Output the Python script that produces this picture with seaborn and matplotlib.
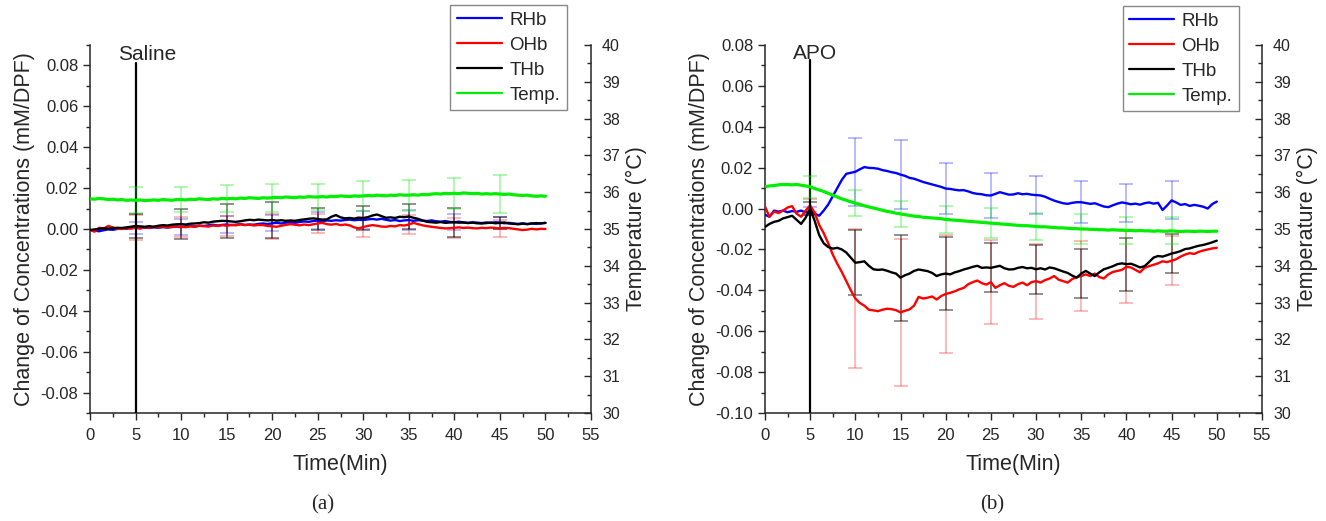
import numpy as np
import pandas as pd
import matplotlib
matplotlib.use('Agg')
import matplotlib.pyplot as plt
from matplotlib.ticker import MultipleLocator, FormatStrFormatter
import seaborn as sns

sns.set_style('ticks')
plt.rcParams['font.family'] = ['Liberation Sans', 'DejaVu Sans']
plt.rcParams['axes.unicode_minus'] = False

# time grid (min), one reading every half minute
time = np.arange(0, 50.5, 0.5)
err_time = [5, 10, 15, 20, 25, 30, 35, 40, 45]

# ---- (a) Saline ----
sal_rhb = [
    -0.0005, -0.0008, -0.0011, -0.0006, -0.0002, -0.0004, 0.0000, 0.0003, 0.0001, 0.0005,
    0.0006, 0.0003, 0.0007, 0.0005, 0.0008, 0.0006, 0.0009, 0.0007, 0.0010, 0.0012,
    0.0009, 0.0013, 0.0015, 0.0012, 0.0016, 0.0015, 0.0018, 0.0021, 0.0017, 0.0020,
    0.0022, 0.0019, 0.0021, 0.0024, 0.0020, 0.0022, 0.0021, 0.0025, 0.0027, 0.0024,
    0.0028, 0.0030, 0.0027, 0.0031, 0.0033, 0.0030, 0.0034, 0.0037, 0.0035, 0.0039,
    0.0041, 0.0038, 0.0042, 0.0040, 0.0043, 0.0041, 0.0044, 0.0046, 0.0043, 0.0045,
    0.0044, 0.0047, 0.0049, 0.0046, 0.0050, 0.0045, 0.0041, 0.0044, 0.0039, 0.0042,
    0.0044, 0.0040, 0.0043, 0.0041, 0.0039, 0.0042, 0.0038, 0.0036, 0.0039, 0.0035,
    0.0033, 0.0036, 0.0032, 0.0030, 0.0033, 0.0031, 0.0029, 0.0032, 0.0030, 0.0033,
    0.0031, 0.0028, 0.0030, 0.0027, 0.0025, 0.0028, 0.0024, 0.0027, 0.0025, 0.0028,
    0.0030]
sal_ohb = [
    -0.0005, -0.0013, 0.0006, 0.0002, 0.0015, 0.0008, 0.0001, 0.0000, 0.0004, 0.0002,
    0.0006, 0.0004, 0.0008, 0.0006, 0.0011, 0.0009, 0.0012, 0.0008, 0.0010, 0.0013,
    0.0011, 0.0009, 0.0013, 0.0011, 0.0016, 0.0014, 0.0012, 0.0017, 0.0015, 0.0019,
    0.0016, 0.0020, 0.0018, 0.0023, 0.0019, 0.0021, 0.0017, 0.0020, 0.0019, 0.0015,
    0.0013, 0.0011, 0.0016, 0.0020, 0.0024, 0.0021, 0.0018, 0.0022, 0.0019, 0.0023,
    0.0027, 0.0030, 0.0024, 0.0021, 0.0025, 0.0019, 0.0022, 0.0018, 0.0008, 0.0003,
    0.0010, 0.0015, 0.0019, 0.0016, 0.0012, 0.0011, 0.0015, 0.0013, 0.0019, 0.0017,
    0.0022, 0.0030, 0.0024, 0.0018, 0.0014, 0.0011, 0.0008, 0.0005, 0.0003, 0.0004,
    0.0006, 0.0008, 0.0005, 0.0007, 0.0004, 0.0003, 0.0006, 0.0004, 0.0007, 0.0005,
    0.0003, 0.0006, 0.0004, 0.0001, -0.0002, -0.0005, -0.0003, 0.0001, -0.0002, 0.0001,
    0.0000]
sal_thb = [
    -0.0005, -0.0002, 0.0001, 0.0003, 0.0002, 0.0004, 0.0006, 0.0005, 0.0008, 0.0011,
    0.0015, 0.0013, 0.0011, 0.0014, 0.0011, 0.0016, 0.0019, 0.0017, 0.0021, 0.0023,
    0.0024, 0.0022, 0.0026, 0.0027, 0.0029, 0.0033, 0.0031, 0.0036, 0.0038, 0.0040,
    0.0039, 0.0037, 0.0035, 0.0038, 0.0042, 0.0045, 0.0043, 0.0046, 0.0044, 0.0042,
    0.0044, 0.0041, 0.0043, 0.0040, 0.0042, 0.0040, 0.0044, 0.0047, 0.0050, 0.0052,
    0.0049, 0.0046, 0.0047, 0.0060, 0.0068, 0.0057, 0.0052, 0.0054, 0.0051, 0.0055,
    0.0053, 0.0058, 0.0066, 0.0071, 0.0063, 0.0055, 0.0057, 0.0054, 0.0060, 0.0058,
    0.0061, 0.0055, 0.0050, 0.0042, 0.0035, 0.0033, 0.0031, 0.0034, 0.0030, 0.0032,
    0.0033, 0.0031, 0.0032, 0.0029, 0.0031, 0.0028, 0.0027, 0.0029, 0.0031, 0.0028,
    0.0030, 0.0032, 0.0027, 0.0025, 0.0023, 0.0026, 0.0024, 0.0027, 0.0029, 0.0027,
    0.0030]
sal_temp = [
    35.82, 35.81, 35.83, 35.82, 35.80, 35.81, 35.79, 35.80, 35.78, 35.79,
    35.78, 35.79, 35.77, 35.78, 35.79, 35.78, 35.80, 35.79, 35.78, 35.80,
    35.80, 35.79, 35.81, 35.80, 35.82, 35.81, 35.80, 35.82, 35.81, 35.83,
    35.82, 35.83, 35.82, 35.84, 35.83, 35.85, 35.84, 35.83, 35.85, 35.84,
    35.85, 35.86, 35.85, 35.87, 35.86, 35.85, 35.87, 35.86, 35.88, 35.87,
    35.87, 35.88, 35.87, 35.89, 35.88, 35.90, 35.89, 35.88, 35.90, 35.89,
    35.90, 35.91, 35.90, 35.92, 35.91, 35.90, 35.92, 35.91, 35.93, 35.92,
    35.92, 35.93, 35.92, 35.94, 35.93, 35.95, 35.96, 35.95, 35.97, 35.96,
    35.97, 35.96, 35.98, 35.97, 35.96, 35.97, 35.95, 35.96, 35.95, 35.96,
    35.95, 35.94, 35.95, 35.93, 35.92, 35.91, 35.92, 35.90, 35.89, 35.90,
    35.89]
sal_rhb_err = [0.003, 0.004, 0.004, 0.004, 0.004, 0.0045, 0.005, 0.004, 0.003]
sal_ohb_err = [0.0062, 0.005, 0.005, 0.006, 0.0045, 0.005, 0.0045, 0.005, 0.004]
sal_thb_err = [0.006, 0.0074, 0.0082, 0.009, 0.0052, 0.006, 0.006, 0.007, 0.003]
sal_temp_err = [0.35, 0.35, 0.37, 0.38, 0.36, 0.40, 0.42, 0.42, 0.52]

# ---- (b) APO ----
apo_rhb = [
    -0.0030, -0.0040, -0.0010, -0.0015, -0.0010, -0.0018, -0.0012, -0.0016, -0.0010, -0.0019,
    -0.0012, -0.0025, -0.0035, -0.0010, 0.0020, 0.0060, 0.0100, 0.0140, 0.0170, 0.0175,
    0.0180, 0.0192, 0.0203, 0.0199, 0.0198, 0.0195, 0.0188, 0.0184, 0.0178, 0.0174,
    0.0166, 0.0160, 0.0150, 0.0146, 0.0138, 0.0130, 0.0124, 0.0118, 0.0112, 0.0106,
    0.0098, 0.0096, 0.0092, 0.0089, 0.0090, 0.0084, 0.0076, 0.0072, 0.0070, 0.0065,
    0.0064, 0.0072, 0.0080, 0.0074, 0.0068, 0.0069, 0.0075, 0.0070, 0.0072, 0.0068,
    0.0066, 0.0064, 0.0058, 0.0048, 0.0039, 0.0032, 0.0026, 0.0023, 0.0028, 0.0031,
    0.0031, 0.0027, 0.0023, 0.0026, 0.0018, 0.0010, 0.0007, 0.0016, 0.0024, 0.0030,
    0.0026, 0.0021, 0.0024, 0.0019, 0.0026, 0.0030, 0.0024, 0.0028, -0.0007, 0.0015,
    0.0040, 0.0030, 0.0018, 0.0022, 0.0013, 0.0018, 0.0014, 0.0009, 0.0000, 0.0022,
    0.0034]
apo_ohb = [
    0.0010, -0.0040, -0.0015, -0.0022, -0.0010, 0.0005, 0.0012, -0.0025, -0.0040, -0.0010,
    0.0015, -0.0020, -0.0080, -0.0120, -0.0170, -0.0225, -0.0270, -0.0310, -0.0355, -0.0400,
    -0.0440, -0.0462, -0.0475, -0.0495, -0.0498, -0.0502, -0.0495, -0.0490, -0.0492, -0.0497,
    -0.0508, -0.0500, -0.0493, -0.0475, -0.0432, -0.0440, -0.0436, -0.0430, -0.0445, -0.0428,
    -0.0418, -0.0412, -0.0405, -0.0395, -0.0388, -0.0370, -0.0360, -0.0352, -0.0365, -0.0372,
    -0.0360, -0.0388, -0.0375, -0.0365, -0.0378, -0.0383, -0.0370, -0.0362, -0.0375, -0.0360,
    -0.0355, -0.0362, -0.0350, -0.0342, -0.0330, -0.0348, -0.0355, -0.0362, -0.0345, -0.0335,
    -0.0330, -0.0322, -0.0330, -0.0318, -0.0335, -0.0342, -0.0322, -0.0310, -0.0305, -0.0300,
    -0.0285, -0.0288, -0.0300, -0.0312, -0.0290, -0.0282, -0.0275, -0.0268, -0.0258, -0.0262,
    -0.0255, -0.0248, -0.0235, -0.0225, -0.0218, -0.0222, -0.0212, -0.0205, -0.0200, -0.0195,
    -0.0192]
apo_thb = [
    -0.0090, -0.0075, -0.0065, -0.0060, -0.0048, -0.0042, -0.0035, -0.0055, -0.0075, -0.0045,
    0.0000, -0.0060, -0.0130, -0.0170, -0.0188, -0.0196, -0.0192, -0.0200, -0.0215, -0.0240,
    -0.0265, -0.0262, -0.0258, -0.0280, -0.0297, -0.0300, -0.0298, -0.0304, -0.0312, -0.0318,
    -0.0338, -0.0326, -0.0318, -0.0305, -0.0298, -0.0302, -0.0306, -0.0315, -0.0330, -0.0322,
    -0.0318, -0.0322, -0.0312, -0.0306, -0.0298, -0.0292, -0.0285, -0.0280, -0.0290, -0.0288,
    -0.0290, -0.0285, -0.0280, -0.0292, -0.0298, -0.0297, -0.0290, -0.0286, -0.0292, -0.0290,
    -0.0297, -0.0292, -0.0298, -0.0288, -0.0292, -0.0300, -0.0308, -0.0315, -0.0328, -0.0338,
    -0.0318, -0.0305, -0.0318, -0.0330, -0.0312, -0.0297, -0.0290, -0.0282, -0.0272, -0.0268,
    -0.0272, -0.0270, -0.0278, -0.0288, -0.0282, -0.0262, -0.0240, -0.0232, -0.0235, -0.0228,
    -0.0220, -0.0215, -0.0208, -0.0198, -0.0195, -0.0188, -0.0182, -0.0178, -0.0172, -0.0165,
    -0.0157]
apo_temp = [
    36.15, 36.17, 36.18, 36.20, 36.21, 36.21, 36.20, 36.21, 36.19, 36.17,
    36.15, 36.10, 36.06, 36.02, 35.97, 35.92, 35.87, 35.82, 35.78, 35.74,
    35.70, 35.67, 35.63, 35.60, 35.57, 35.54, 35.51, 35.48, 35.46, 35.43,
    35.41, 35.39, 35.37, 35.35, 35.34, 35.32, 35.31, 35.30, 35.29, 35.28,
    35.26, 35.25, 35.24, 35.23, 35.22, 35.21, 35.20, 35.19, 35.18, 35.17,
    35.16, 35.15, 35.14, 35.13, 35.12, 35.11, 35.10, 35.09, 35.09, 35.08,
    35.07, 35.06, 35.06, 35.05, 35.04, 35.03, 35.03, 35.02, 35.01, 35.01,
    35.00, 35.00, 34.99, 34.99, 34.98, 34.98, 34.97, 34.98, 34.97, 34.97,
    34.96, 34.96, 34.95, 34.96, 34.95, 34.95, 34.94, 34.95, 34.94, 34.94,
    34.95, 34.94, 34.93, 34.94, 34.94, 34.93, 34.94, 34.94, 34.93, 34.94,
    34.94]
apo_rhb_err = [0.002, 0.0167, 0.017, 0.0127, 0.011, 0.0092, 0.0102, 0.0093, 0.0093]
apo_ohb_err = [0.003, 0.034, 0.036, 0.029, 0.0205, 0.0184, 0.0172, 0.0175, 0.012]
apo_thb_err = [0.003, 0.016, 0.021, 0.018, 0.012, 0.012, 0.012, 0.013, 0.0095]
apo_temp_err = [0.30, 0.35, 0.35, 0.37, 0.40, 0.37, 0.40, 0.37, 0.37]

colors = {'RHb': '#0000ff', 'OHb': '#ff0000', 'THb': '#000000', 'Temp.': '#00ee00'}
err_alpha = {'RHb': 0.35, 'OHb': 0.35, 'THb': 0.55, 'Temp.': 0.4}


def draw_panel(fig, rect, hb, temp, errs, ylim, yticks, label, label_xy, line_top,
               legend_anchor, caption, caption_x):
    ax = fig.add_axes(rect)
    ax2 = ax.twinx()

    df = pd.DataFrame({'time': time, 'RHb': hb[0], 'OHb': hb[1], 'THb': hb[2], 'Temp.': temp})
    idx = [int(t * 2) for t in err_time]

    for name, err in zip(['RHb', 'OHb', 'THb'], errs[:3]):
        ax.errorbar(err_time, df[name].values[idx], yerr=err, fmt='none',
                    ecolor=colors[name], alpha=err_alpha[name], elinewidth=1.1,
                    capsize=5, capthick=1.1, zorder=1)
    for name in ['RHb', 'OHb', 'THb']:
        sns.lineplot(data=df, x='time', y=name, ax=ax, color=colors[name],
                     linewidth=1.7, label=name, legend=False, zorder=3)

    ax2.errorbar(err_time, df['Temp.'].values[idx], yerr=errs[3], fmt='none',
                 ecolor=colors['Temp.'], alpha=err_alpha['Temp.'], elinewidth=1.1,
                 capsize=5, capthick=1.1, zorder=1)
    sns.lineplot(data=df, x='time', y='Temp.', ax=ax2, color=colors['Temp.'],
                 linewidth=2.3, label='Temp.', legend=False, zorder=3)

    # injection marker
    ax.plot([5, 5], [ylim[0], line_top], color='black', linewidth=1.6, zorder=4)
    ax.text(label_xy[0], label_xy[1], label, fontsize=15, ha='center', va='center')

    ax.set_xlim(0, 55)
    ax.set_ylim(*ylim)
    ax2.set_ylim(30, 40)
    ax.xaxis.set_major_locator(MultipleLocator(5))
    ax.xaxis.set_minor_locator(MultipleLocator(2.5))
    ax.set_yticks(yticks)
    ax.yaxis.set_minor_locator(MultipleLocator(0.01))
    ax.yaxis.set_major_formatter(FormatStrFormatter('%.2f'))
    ax2.yaxis.set_major_locator(MultipleLocator(1))
    ax2.yaxis.set_minor_locator(MultipleLocator(0.5))

    ax.set_xlabel('Time(Min)', fontsize=15.5, labelpad=8)
    ax.set_ylabel('Change of Concentrations (mM/DPF)', fontsize=15.5, labelpad=4)
    ax2.set_ylabel('Temperature (°C)', fontsize=15.5, labelpad=4)

    for a in (ax, ax2):
        for s in a.spines.values():
            s.set_linewidth(1.1)
        a.spines['top'].set_visible(False)
    ax.spines['right'].set_visible(False)
    ax2.spines['left'].set_visible(False)
    ax2.spines['bottom'].set_visible(False)

    ax.tick_params(axis='both', which='major', direction='out', length=5, width=1,
                   labelsize=12)
    ax.tick_params(axis='x', which='major', pad=6)
    ax.tick_params(axis='both', which='minor', direction='out', length=3, width=1)
    ax2.tick_params(axis='y', which='major', direction='in', length=5, width=1,
                    labelsize=11.5, pad=8)
    ax2.tick_params(axis='y', which='minor', direction='in', length=3, width=1)

    handles = [h for h in ax.get_lines() if h.get_label() in ('RHb', 'OHb', 'THb')] + \
              [h for h in ax2.get_lines() if h.get_label() == 'Temp.']
    leg = fig.legend(handles, [h.get_label() for h in handles], loc='upper right',
                     bbox_to_anchor=legend_anchor, fontsize=13.5, frameon=True,
                     fancybox=False, edgecolor='#888888', framealpha=1,
                     handlelength=2.4, labelspacing=0.42, borderpad=0.35,
                     handletextpad=0.4, borderaxespad=0)
    leg.get_frame().set_linewidth(1)
    for line in leg.get_lines():
        line.set_linewidth(1.6)

    fig.text(caption_x, 0.012, caption, fontsize=15, ha='center', va='bottom',
             family=['Liberation Serif', 'DejaVu Serif'])
    return ax, ax2


fig = plt.figure(figsize=(13.26, 5.21), dpi=100)

draw_panel(fig, [0.0679, 0.2073, 0.3778, 0.7063],
           (sal_rhb, sal_ohb, sal_thb), sal_temp,
           (sal_rhb_err, sal_ohb_err, sal_thb_err, sal_temp_err),
           (-0.09, 0.09), [-0.08, -0.06, -0.04, -0.02, 0.00, 0.02, 0.04, 0.06, 0.08],
           'Saline', (6.3, 0.0855), 0.081, (0.4276, 0.9904), '(a)', 0.243)

draw_panel(fig, [0.5769, 0.2073, 0.3748, 0.7063],
           (apo_rhb, apo_ohb, apo_thb), apo_temp,
           (apo_rhb_err, apo_ohb_err, apo_thb_err, apo_temp_err),
           (-0.10, 0.08), [-0.10, -0.08, -0.06, -0.04, -0.02, 0.00, 0.02, 0.04, 0.06, 0.08],
           'APO', (5.5, 0.076), 0.0726, (0.9344, 0.9885), '(b)', 0.748)

fig.savefig('out.png', dpi=100)
